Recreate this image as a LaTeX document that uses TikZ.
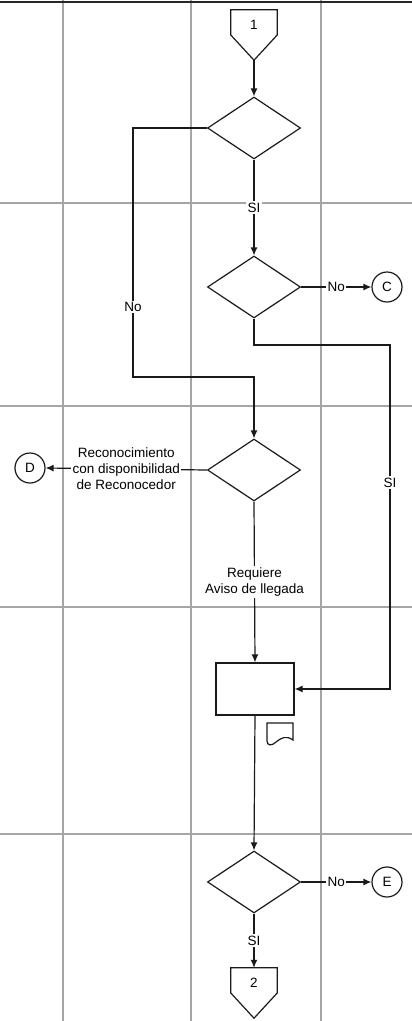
\documentclass[tikz,border=0pt]{standalone}
\usepackage{fontspec}
\setmainfont{Liberation Sans}
\usetikzlibrary{positioning, shapes.geometric, arrows.meta}
\definecolor{lane}{HTML}{A6A6A6}
\definecolor{edge}{HTML}{1A1A1A}

\tikzset{
  decision/.style={draw=edge, diamond, aspect=1.5, inner sep=0pt,
    minimum width=93pt, minimum height=62pt, line width=1.2pt},
  task/.style={draw=edge, rectangle, inner sep=0pt,
    minimum width=78pt, minimum height=52pt, line width=1.2pt},
  offpage/.style={rectangle, inner sep=0pt, minimum width=46pt, minimum height=50pt,
    text height=10pt, text depth=22pt},
  jump/.style={draw=edge, circle, inner sep=0pt, minimum size=30pt, line width=1.2pt},
  flow/.style={draw=edge, line width=1.2pt, -{Latex[length=8pt,width=7pt]}},
  tag/.style={fill=white, inner sep=1.5pt, text=black}
}

\begin{document}
\begin{tikzpicture}[x=1pt, y=-1pt, font=\fontsize{13.5}{16}\selectfont]
  \useasboundingbox (0,0) rectangle (412,1021);

  % lanes
  \foreach \gx in {63,191,321}
    \draw[lane, line width=1.5pt] (\gx,0) -- (\gx,1021);
  \foreach \gy in {203,406,607,834}
    \draw[lane, line width=1.5pt] (0,\gy) -- (412,\gy);
  \draw[black!85, line width=2pt] (0,2) -- (412,2);

  % shapes
  \node[offpage] (off1) at (254,35) {1};
  \node[decision] (d1) at (254,128) {};
  \node[decision] (d2) at (254,287) {};
  \node[jump] (cC) at (387,287) {C};
  \node[decision] (d3) at (254,470) {};
  \node[jump] (cD) at (30,468) {D};
  \node[task] (t1) at (255,689) {};
  \node[decision] (d4) at (254,882) {};
  \node[jump] (cE) at (387,882) {E};
  \node[offpage] (off2) at (254,993) {2};

  \foreach \p in {off1,off2}
    \draw[edge, line width=1.2pt] (\p.north west) -- (\p.north east) -- (\p.east)
      -- (\p.south) -- (\p.west) -- cycle;

  \coordinate (bendNo) at (133,377);
  \coordinate (bendSI) at (390,345);

  % document mark
  \draw[edge, line width=1.2pt] (267,723) -- (293,723) -- (293,740)
    .. controls (286,735) and (281,738) .. (276,742)
    .. controls (272,746) and (267,746) .. (267,741) -- cycle;

  % connectors
  \draw[flow] (off1.south) -- (d1.north);
  \draw[flow] (d1.south) -- node[tag]{SI} (d2.north);
  \draw[flow] (d2.east) -- node[tag]{No} (cC.west);
  \draw[flow] (d1.west) -| node[tag, pos=0.86]{No} (bendNo) -| (d3.north);
  \draw[flow] (d2.south) |- (bendSI) |- node[tag, pos=0.2]{SI} (t1.east);
  \draw[flow] (d3.west) -- node[tag, align=center]
    {Reconocimiento\\con disponibilidad\\de Reconocedor} (cD.east);
  \draw[flow] (d3.south) -- node[tag, align=center]
    {Requiere\\Aviso de llegada} (t1.north);
  \draw[flow] (t1.south) -- (d4.north);
  \draw[flow] (d4.east) -- node[tag]{No} (cE.west);
  \draw[flow] (d4.south) -- node[tag]{SI} (off2.north);
\end{tikzpicture}
\end{document}
